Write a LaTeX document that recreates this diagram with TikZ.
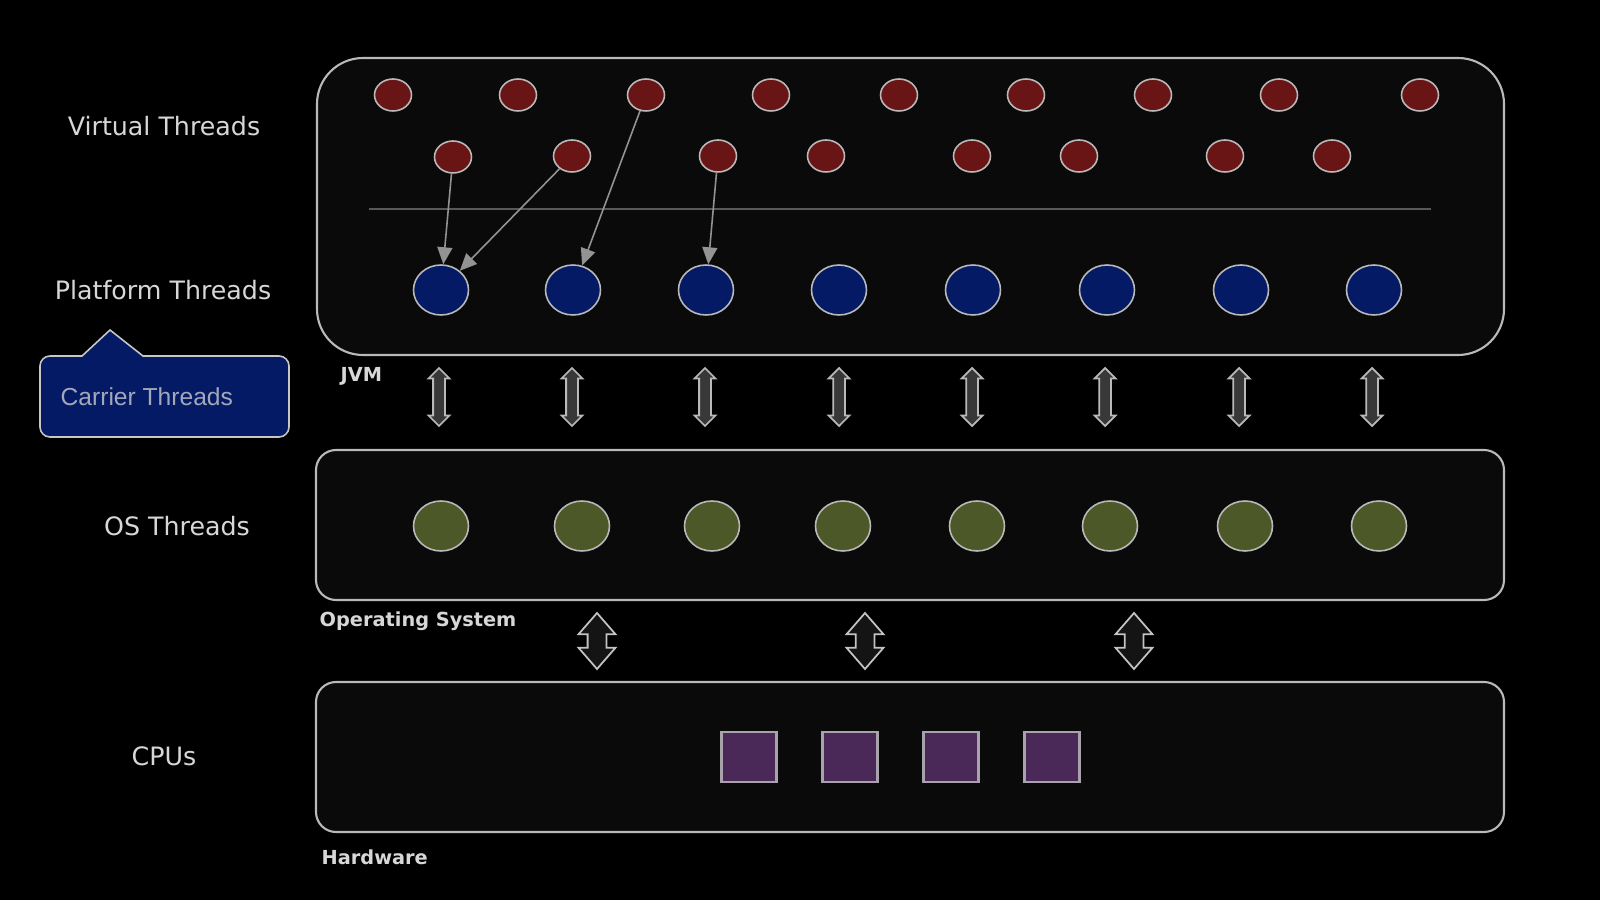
\documentclass[tikz,border=0pt]{standalone}
\usepackage{fontspec}
\setmainfont{DejaVu Sans}
\newfontfamily\calloutfont{Liberation Sans}
\usetikzlibrary{shapes.geometric,shapes.arrows,arrows.meta}
\definecolor{vtred}{RGB}{106,21,21}
\definecolor{ptblue}{RGB}{5,26,100}
\definecolor{osgreen}{RGB}{76,88,40}
\definecolor{cpupurple}{RGB}{74,40,88}
\definecolor{rim}{RGB}{185,185,185}
\definecolor{ink}{RGB}{215,215,215}
\definecolor{panel}{RGB}{10,10,10}
\def\dlayer{\draw[rim,line width=0.6pt,fill=panel]}
\tikzset{
  vthread/.style={ellipse,draw=rim,line width=0.45pt,fill=vtred,minimum width=3.7mm,minimum height=3.2mm,inner sep=0pt},
  pthread/.style={ellipse,draw=rim,line width=0.45pt,fill=ptblue,minimum width=5.5mm,minimum height=5mm,inner sep=0pt},
  othread/.style={pthread,fill=osgreen},
  core/.style={rectangle,draw=rim!85!cpupurple,line width=0.6pt,fill=cpupurple,minimum width=5.5mm,minimum height=5mm,inner sep=0pt},
  mount/.style={draw=gray!85,line width=0.45pt,-{Triangle[length=1.7mm,width=1.5mm]}},
  jnilink/.style={double arrow,rotate=90,draw=rim,line width=0.5pt,fill=black!78,inner sep=0.5mm,double arrow head extend=0.45mm,minimum height=5.8mm},
  syslink/.style={double arrow,rotate=90,draw=rim!85,line width=0.5pt,fill=black!92,inner sep=0.85mm,double arrow head extend=0.9mm,minimum height=5.6mm,double arrow tip angle=82},
  rowlabel/.style={text=ink,font=\fontsize{7.2}{8}\selectfont},
  layername/.style={text=ink,anchor=west,font=\fontsize{5.5}{6.5}\selectfont\bfseries,inner sep=0pt}
}

\begin{document}
\begin{tikzpicture}[x=0.1mm,y=-0.1mm]
  \fill[black] (0,0) rectangle (1600,900);
  \useasboundingbox (0,0) rectangle (1600,900);

  % layers
  \dlayer[rounded corners=4.6mm] (317,58) rectangle (1504,355);
  \dlayer[rounded corners=2mm] (316,450) rectangle (1504,600);
  \dlayer[rounded corners=2mm] (316,682) rectangle (1504,832);
  \draw[black!65,line width=0.45pt] (369,209) -- (1431,209);

  % row labels
  \node[rowlabel] (vtlabel) at (164,126) {Virtual Threads};
  \node[rowlabel] (ptlabel) at (163,290) {Platform Threads};
  \node[rowlabel] (oslabel) at (177,526) {OS Threads};
  \node[rowlabel] (cpulabel) at (164,756) {CPUs};
  \node[layername] (jvm) at (340,376) {JVM};
  \node[layername] (os) at (319,621) {Operating System};
  \node[layername] (hw) at (321,857) {Hardware};

  % carrier threads callout
  \draw[rim!80,line width=0.45pt,fill=ptblue] (82,356) -- (110,330) -- (143,356)
    [rounded corners=1mm] -- (289,356) -- (289,437) -- (40,437) -- (40,356) [sharp corners] -- cycle;
  \node[text=ink!75!ptblue,anchor=west,font=\calloutfont\fontsize{7}{8}\selectfont,inner sep=0pt] (carrier) at (60,397) {Carrier Threads};

  % virtual threads
  \node[vthread] (v1) at (393,95) {};
  \node[vthread] (v2) at (518,95) {};
  \node[vthread] (v3) at (646,95) {};
  \node[vthread] (v4) at (771,95) {};
  \node[vthread] (v5) at (899,95) {};
  \node[vthread] (v6) at (1026,95) {};
  \node[vthread] (v7) at (1153,95) {};
  \node[vthread] (v8) at (1279,95) {};
  \node[vthread] (v9) at (1420,95) {};
  \node[vthread] (w1) at (453,157) {};
  \node[vthread] (w2) at (572,156) {};
  \node[vthread] (w3) at (718,156) {};
  \node[vthread] (w4) at (826,156) {};
  \node[vthread] (w5) at (972,156) {};
  \node[vthread] (w6) at (1079,156) {};
  \node[vthread] (w7) at (1225,156) {};
  \node[vthread] (w8) at (1332,156) {};

  % platform threads
  \node[pthread] (p1) at (441,290) {};
  \node[pthread] (p2) at (573,290) {};
  \node[pthread] (p3) at (706,290) {};
  \node[pthread] (p4) at (839,290) {};
  \node[pthread] (p5) at (973,290) {};
  \node[pthread] (p6) at (1107,290) {};
  \node[pthread] (p7) at (1241,290) {};
  \node[pthread] (p8) at (1374,290) {};

  \draw[mount] (w1) -- (p1);
  \draw[mount] (w2) -- (p1);
  \draw[mount] (v3) -- (p2);
  \draw[mount] (w3) -- (p3);

  % jvm <-> os
  \node[jnilink] (j1) at (439,397) {};
  \node[jnilink] (j2) at (572,397) {};
  \node[jnilink] (j3) at (705,397) {};
  \node[jnilink] (j4) at (839,397) {};
  \node[jnilink] (j5) at (972,397) {};
  \node[jnilink] (j6) at (1105,397) {};
  \node[jnilink] (j7) at (1239,397) {};
  \node[jnilink] (j8) at (1372,397) {};

  % os threads
  \node[othread] (o1) at (441,526) {};
  \node[othread] (o2) at (582,526) {};
  \node[othread] (o3) at (712,526) {};
  \node[othread] (o4) at (843,526) {};
  \node[othread] (o5) at (977,526) {};
  \node[othread] (o6) at (1110,526) {};
  \node[othread] (o7) at (1245,526) {};
  \node[othread] (o8) at (1379,526) {};

  % os <-> hardware
  \node[syslink] (s1) at (597,641) {};
  \node[syslink] (s2) at (865,641) {};
  \node[syslink] (s3) at (1134,641) {};

  % cpus
  \node[core] (c1) at (749,757) {};
  \node[core] (c2) at (850,757) {};
  \node[core] (c3) at (951,757) {};
  \node[core] (c4) at (1052,757) {};
\end{tikzpicture}
\end{document}
